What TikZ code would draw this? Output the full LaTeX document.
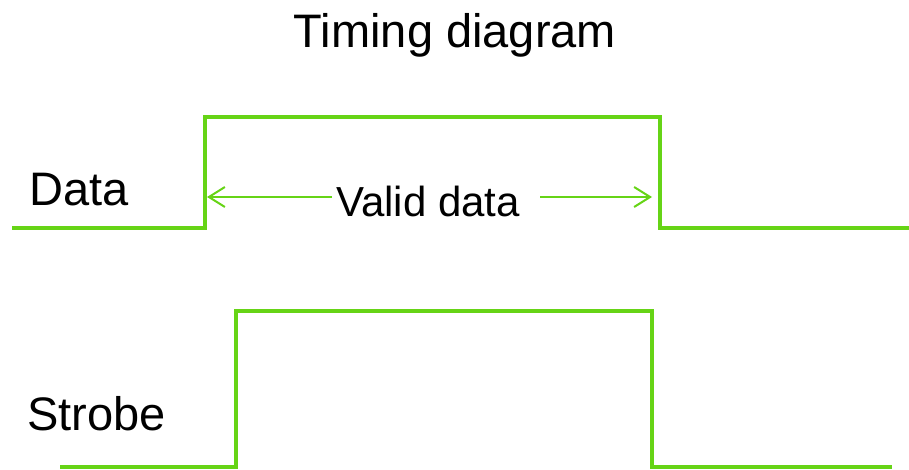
\documentclass[tikz,border=0pt]{standalone}
\usepackage{fontspec}
\setmainfont{Liberation Sans}
\usetikzlibrary{arrows.meta}
\definecolor{wave}{RGB}{102,212,22}
\begin{document}
\begin{tikzpicture}[x=1pt,y=-1pt,
  signal/.style={draw=wave,line width=4pt,line join=miter},
  dim/.style={draw=wave,line width=2pt,-{Straight Barb[length=16pt,width=20pt,line width=2pt]}},
  lbl/.style={font=\fontsize{47}{50}\selectfont,anchor=base west,inner sep=0pt},
  vlbl/.style={font=\fontsize{42}{45}\selectfont,anchor=base,inner sep=0pt}]
\useasboundingbox (0,0) rectangle (909,470);
% Title
\node[font=\fontsize{47}{50}\selectfont,anchor=base,inner sep=0pt] (title) at (455,48) {Timing diagram};
% Labels
\node[lbl] (data) at (29,206) {Data};
\node[lbl] (strobe) at (27,430) {Strobe};
% Data waveform
\coordinate (d0) at (12,228);
\coordinate (d1) at (205,228);
\coordinate (d2) at (205,117);
\coordinate (d3) at (660,117);
\coordinate (d4) at (660,228);
\coordinate (d5) at (909,228);
\draw[signal] (d0) -- (d1) -- (d2) -- (d3) -- (d4) -- (d5);
% Strobe waveform
\coordinate (s0) at (60,467);
\coordinate (s1) at (236,467);
\coordinate (s2) at (236,311);
\coordinate (s3) at (652,311);
\coordinate (s4) at (652,467);
\coordinate (s5) at (892,467);
\draw[signal] (s0) -- (s1) -- (s2) -- (s3) -- (s4) -- (s5);
% Valid data
\node[vlbl] (valid) at (428,217) {Valid data};
\coordinate (vl) at (332,197);
\coordinate (vr) at (540,197);
\coordinate (tl) at (207,197);
\coordinate (tr) at (652,197);
\draw[dim] (vl) -- (tl);
\draw[dim] (vr) -- (tr);
\end{tikzpicture}
\end{document}
